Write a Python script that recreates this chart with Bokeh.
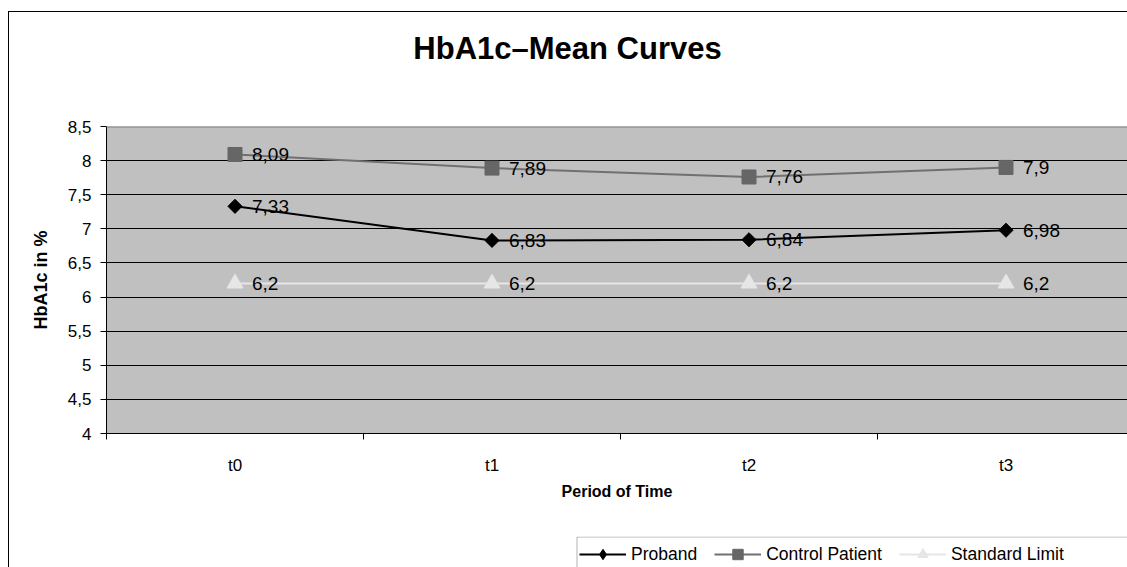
import math
from bokeh.plotting import figure
from bokeh.layouts import column
from bokeh.models import (ColumnDataSource, Range1d, FixedTicker, Span, Legend, LegendItem, Label,
                          BoxAnnotation)
from bokeh.core.properties import value
from bokeh.embed import file_html
from bokeh.resources import INLINE

categories = ["t0", "t1", "t2", "t3"]
proband = [7.33, 6.83, 6.84, 6.98]
control = [8.09, 7.89, 7.76, 7.9]
standard = [6.2, 6.2, 6.2, 6.2]
y_ticks = [4, 4.5, 5, 5.5, 6, 6.5, 7, 7.5, 8, 8.5]
title_text = "HbA1c\u2013Mean Curves"

FONT = "Liberation Sans"

def fmt(v):
    return ("%g" % v).replace(".", ",")

xs = list(range(len(categories)))

src = ColumnDataSource(dict(x=xs, proband=proband, control=control, standard=standard,
                            pl=[fmt(v) for v in proband], cl=[fmt(v) for v in control],
                            sl=[fmt(v) for v in standard]))

W = 1118          # canvas width (after 8px margin + 1px border)
LEFT = 97         # frame left inside canvas -> page x = 106
FRAME_W = W - LEFT

def strip(height):
    f = figure(width=W, height=height, output_backend="svg", toolbar_location=None,
               x_range=Range1d(0, FRAME_W), y_range=Range1d(0, height),
               x_axis_location=None, y_axis_location=None,
               min_border_left=LEFT, min_border_right=0, min_border_top=0, min_border_bottom=0)
    f.grid.visible = False
    f.outline_line_color = None
    f.background_fill_color = "white"
    f.border_fill_color = "white"
    return f

# ---- title strip (page y 12..112)
t = strip(100)
t.add_layout(Label(x=567 - 106, y=64, text=title_text, text_align="center",
                   text_baseline="middle", text_font=FONT, text_font_size="31px",
                   text_font_style="bold", text_color="black"))

# ---- main chart (page y 112..536)
p = figure(width=W, height=424, output_backend="svg", toolbar_location=None,
           x_range=Range1d(-0.5, -0.5 + FRAME_W / 257.0),
           y_range=Range1d(4, 8.5),
           min_border_left=LEFT, min_border_right=0, min_border_top=14,
           min_border_bottom=103)
p.background_fill_color = "#C0C0C0"
p.border_fill_color = "white"
p.outline_line_color = None

p.xaxis.ticker = FixedTicker(ticks=xs, minor_ticks=[-0.5, 0.5, 1.5, 2.5, 3.5])
p.xaxis.major_label_overrides = {i: c for i, c in enumerate(categories)}
p.xaxis.major_tick_line_color = None
p.xaxis.minor_tick_out = 6
p.xaxis.minor_tick_in = 0
p.xaxis.minor_tick_line_color = "black"
p.xaxis.axis_line_color = "black"
p.xaxis.major_label_text_font = FONT
p.xaxis.major_label_text_font_size = "17px"
p.xaxis.major_label_text_color = "black"
p.xaxis.major_label_standoff = 16
p.xaxis.axis_label = "Period of Time"
p.xaxis.axis_label_text_font = FONT
p.xaxis.axis_label_text_font_size = "16px"
p.xaxis.axis_label_text_font_style = "bold"
p.xaxis.axis_label_text_color = "black"
p.xaxis.axis_label_standoff = 5

p.yaxis.ticker = FixedTicker(ticks=y_ticks)
p.yaxis.major_label_overrides = {tk: fmt(tk) for tk in y_ticks}
p.yaxis.major_tick_out = 6
p.yaxis.major_tick_in = 0
p.yaxis.minor_tick_line_color = None
p.yaxis.axis_line_color = "black"
p.yaxis.major_label_text_font = FONT
p.yaxis.major_label_text_font_size = "17px"
p.yaxis.major_label_text_color = "black"
p.yaxis.major_label_standoff = 9
p.yaxis.axis_label = "HbA1c in %"
p.yaxis.axis_label_text_font = FONT
p.yaxis.axis_label_text_font_size = "18px"
p.yaxis.axis_label_text_font_style = "bold"
p.yaxis.axis_label_text_color = "black"
p.yaxis.axis_label_standoff = 14

p.xgrid.grid_line_color = None
p.ygrid.ticker = FixedTicker(ticks=y_ticks[:-1])
p.ygrid.grid_line_color = "black"
p.ygrid.grid_line_width = 1
p.ygrid.grid_line_alpha = 1

p.add_layout(Span(location=8.5, dimension="width", line_color="#808080", line_width=2))

STYLES = dict(
    std=dict(line_color="#E6E6E6", marker="triangle", size=16, fill="#E6E6E6"),
    ctl=dict(line_color="#707070", marker="square", size=14, fill="#666666"),
    prb=dict(line_color="black", marker="square", size=10, fill="black"),
)

def draw(fig, col, st, angle=0.0, marker=None):
    l = fig.line("x", col, source=src, line_color=st["line_color"], line_width=2)
    m = fig.scatter("x", col, source=src, marker=marker or st["marker"], size=st["size"],
                    angle=angle, fill_color=st["fill"], line_color=st["fill"])
    return l, m

draw(p, "standard", STYLES["std"])
draw(p, "control", STYLES["ctl"])
draw(p, "proband", STYLES["prb"], angle=math.pi / 4)

for col, lab in (("proband", "pl"), ("control", "cl"), ("standard", "sl")):
    p.text("x", col, text=lab, source=src, x_offset=17, text_baseline="middle",
           text_font=value(FONT), text_font_size="19px", text_color="black")

# ---- legend strip (page y 536..567); its glyphs lie outside its own y range
QH = 31
q = strip(QH)
q.y_range = Range1d(100, 100 + QH)
ql3, qm3 = draw(q, "standard", STYLES["std"])
ql2, qm2 = draw(q, "control", STYLES["ctl"])
ql1, qm1 = draw(q, "proband", STYLES["prb"], marker="diamond")

q.add_layout(BoxAnnotation(left=470.5, right=FRAME_W + 50, top=100 + QH - 0.5, bottom=90,
                           fill_color="white", fill_alpha=1, line_color="black",
                           line_width=1))

legend = Legend(items=[LegendItem(label="Proband", renderers=[ql1, qm1]),
                       LegendItem(label="Control Patient", renderers=[ql2, qm2]),
                       LegendItem(label="Standard Limit", renderers=[ql3, qm3])],
                orientation="horizontal", location=(473, 0),
                label_text_font=FONT, label_text_font_size="17.5px", label_text_color="black",
                glyph_width=47, glyph_height=26, label_standoff=5, spacing=17,
                padding=4, margin=0, border_line_color=None,
                background_fill_alpha=0)
q.add_layout(legend, "center")

lay = column(t, p, q, spacing=0)
lay.margin = (11, 0, 0, 8)
lay.styles = {"border-left": "1px solid black", "border-top": "1px solid black"}

open("out.html", "w").write(file_html(lay, INLINE))
